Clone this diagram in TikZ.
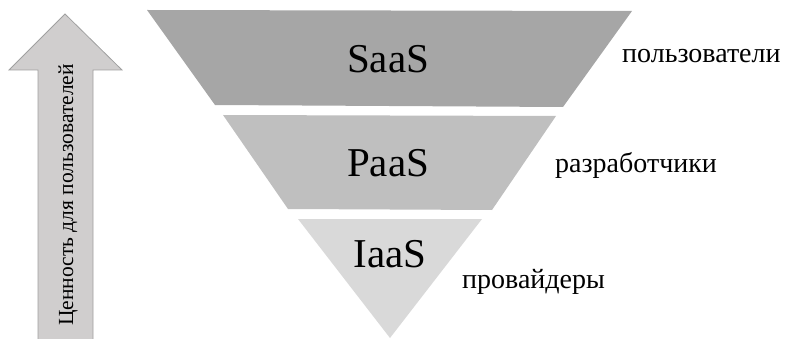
\documentclass[tikz,border=0pt]{standalone}
\usepackage{fontspec}
\setmainfont{LiberationSerif}[Extension=.ttf, UprightFont=*-Regular, BoldFont=*-Bold]
\definecolor{saasC}{HTML}{A6A6A6}
\definecolor{paasC}{HTML}{BFBFBF}
\definecolor{iaasC}{HTML}{D9D9D9}
\definecolor{arrowC}{HTML}{D0CECE}
\definecolor{arrowL}{HTML}{A0A0A0}
\begin{document}
\begin{tikzpicture}[x=1pt,y=-1pt,
  big/.style={font=\fontsize{41}{41}\selectfont, anchor=base, inner sep=0pt},
  role/.style={font=\fontsize{28}{28}\selectfont, anchor=base west, inner sep=0pt},
  axis/.style={font=\fontsize{21.5}{21.5}\selectfont, anchor=base, rotate=90, inner sep=0pt}]
\useasboundingbox (0,0) rectangle (789,339);
% arrow
\draw[fill=arrowC, draw=arrowL, line width=0.8pt]
  (38,340) -- (38,70) -- (9,70) -- (65,14) -- (122,70) -- (93,70) -- (93,340);
\node[axis] (axislbl) at (73,195) {Ценность для пользователей};
% pyramid layers
\fill[saasC] (147,10) -- (632,11) -- (563,107) -- (215,105) -- cycle;
\fill[paasC] (223,115) -- (556,116) -- (492,210) -- (288,209) -- cycle;
\fill[iaasC] (298,219) -- (482,219) -- (390,338) -- cycle;
\node[big] (saas) at (388,73) {SaaS};
\node[big] (paas) at (388,177) {PaaS};
\node[big] (iaas) at (390,267) {IaaS};
% roles
\node[role] (users) at (622,63) {пользователи};
\node[role] (devs) at (555,172) {разработчики};
\node[role] (prov) at (462,288) {провайдеры};
\end{tikzpicture}
\end{document}
